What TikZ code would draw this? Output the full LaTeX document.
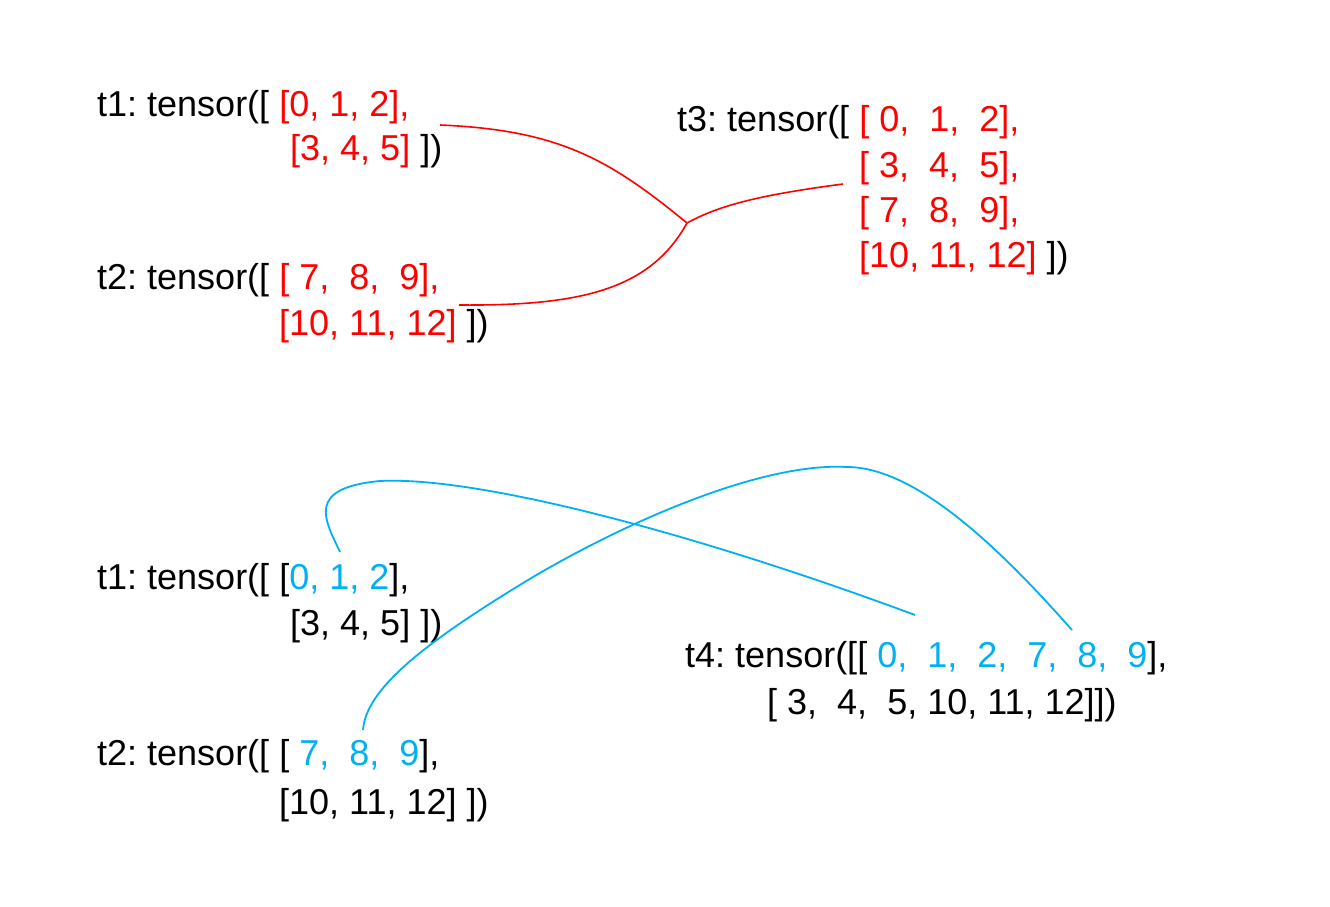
\documentclass[tikz,border=0pt]{standalone}
\usepackage{fontspec}
\setmainfont{Liberation Sans}
\frenchspacing
\definecolor{tred}{RGB}{255,0,0}
\definecolor{tblue}{RGB}{0,176,240}
\tikzstyle{row}=[anchor=base west,inner sep=0pt,font=\fontsize{36}{45}\selectfont]
\tikzstyle{redlink}=[draw=tred,line width=1.6pt]
\tikzstyle{bluelink}=[draw=tblue,line width=1.8pt]
\newcommand{\hlred}[1]{\textcolor{tred}{#1}}
\newcommand{\hlblue}[1]{\textcolor{tblue}{#1}}

\begin{document}
\begin{tikzpicture}[x=1pt,y=-1pt]
	\useasboundingbox (0,0) rectangle (1330,906);
	% cat along dim 0
	\node[row] (t1a) at (97,116) {t1: tensor([ \hlred{[0, 1, 2],}};
	\node[row] (t1b) at (290,160) {\hlred{[3, 4, 5]} ])};
	\node[row] (t2a) at (97,289) {t2: tensor([ \hlred{[~7,~~8,~~9],}};
	\node[row] (t2b) at (279,335) {\hlred{[10, 11, 12]} ])};
	\node[row] (t3a) at (677,131) {t3: tensor([ \hlred{[~0,~~1,~~2],}};
	\node[row] (t3b) at (859,177) {\hlred{[~3,~~4,~~5],}};
	\node[row] (t3c) at (859,222) {\hlred{[~7,~~8,~~9],}};
	\node[row] (t3d) at (859,267) {\hlred{[10, 11, 12]} ])};
	\coordinate (r1) at (440,125);
	\coordinate (r2) at (459,305);
	\coordinate (rj) at (687,223);
	\coordinate (r3) at (843,184);
	\draw[redlink] (r1) .. controls (560,130) and (610,160) .. (rj);
	\draw[redlink] (r2) .. controls (580,306) and (650,290) .. (rj);
	\draw[redlink] (rj) .. controls (720,205) and (760,195) .. (r3);
	% cat along dim 1
	\node[row] (u1a) at (97,589) {t1: tensor([ [\hlblue{0, 1, 2}],};
	\node[row] (u1b) at (290,635) {[3, 4, 5] ])};
	\node[row] (u2a) at (97,765) {t2: tensor([ [~\hlblue{7,~~8,~~9}],};
	\node[row] (u2b) at (279,814) {[10, 11, 12] ])};
	\node[row] (t4a) at (685,667) {t4: tensor([[ \hlblue{0,~~1,~~2,~~7,~~8,~~9}],};
	\node[row] (t4b) at (767,714) {[~3,~~4,~~5, 10, 11, 12]])};
	\coordinate (b1) at (340,552);
	\coordinate (b1e) at (915,615);
	\coordinate (b2) at (363,730);
	\coordinate (b2e) at (1072,630);
	\draw[bluelink] (b1) .. controls (325,520) and (305,488) .. (380,481)
		.. controls (480,476) and (700,535) .. (b1e);
	\draw[bluelink] (b2) .. controls (366,690) and (420,645) .. (533,577)
		.. controls (623,524) and (760,462) .. (847,467)
		.. controls (920,467) and (1010,560) .. (b2e);
\end{tikzpicture}
\end{document}
